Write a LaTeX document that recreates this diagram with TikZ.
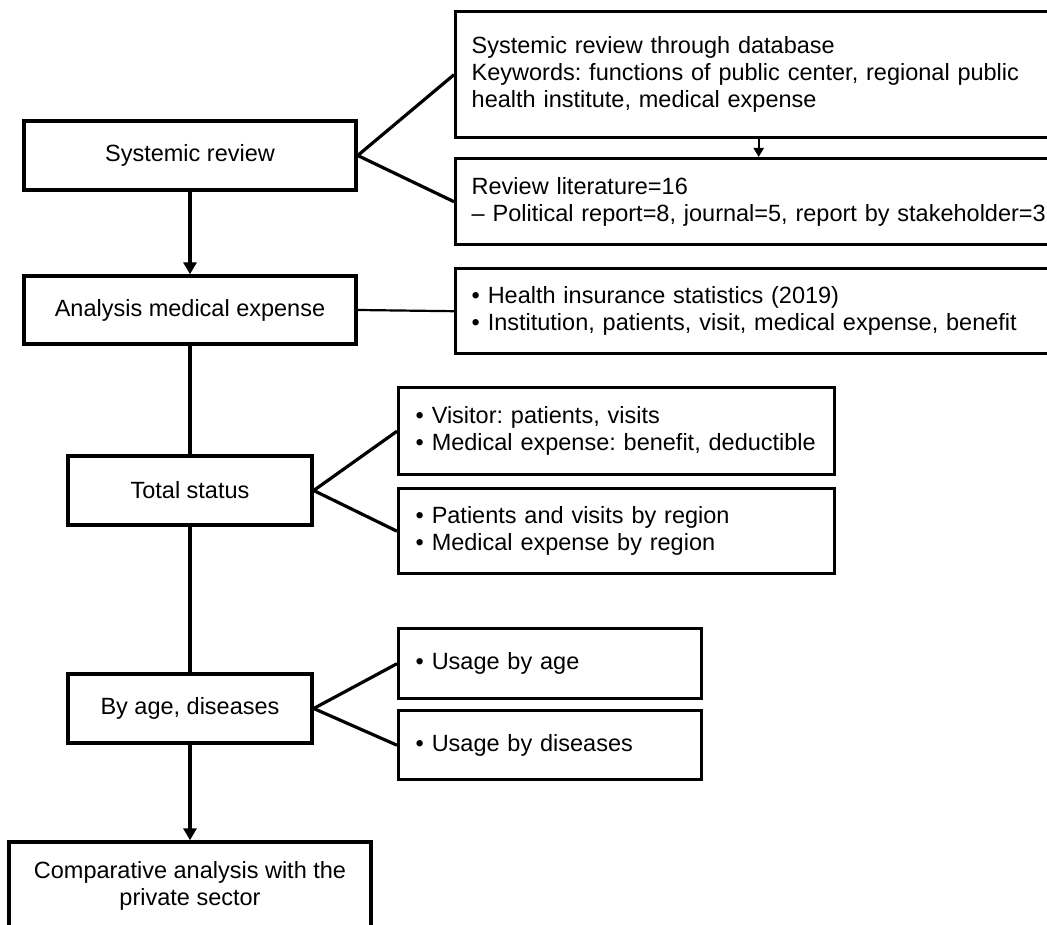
\documentclass[tikz,border=0pt]{standalone}
\usepackage{fontspec}
\setmainfont{Liberation Sans}
\usetikzlibrary{arrows.meta}
\frenchspacing
\hyphenpenalty=10000
\tikzset{
  box/.style={draw=black, line width=3.4pt, inner sep=0pt, font=\fontsize{23.5}{27}\selectfont},
  cbox/.style={box, align=center},
  lbox/.style={box, align=left, anchor=north west, inner xsep=16pt},
  bbox/.style={box, align=left, anchor=north west, inner xsep=17pt},
  conn/.style={line width=3.2pt},
  thinconn/.style={line width=2.2pt},
  arr/.style={line width=3.2pt, -{Triangle[width=13pt,length=12pt]}},
  smallarr/.style={line width=2.2pt, -{Triangle[width=10pt,length=9pt]}}
}
\begin{document}
\begin{tikzpicture}[x=1pt,y=-1pt]
\clip (0,0) rectangle (1047,925);
\fill[white] (0,0) rectangle (1047,925);
% left column
\node[cbox, minimum width=332pt, minimum height=69pt] (sys) at (190,155.5) {Systemic review};
\node[cbox, minimum width=332pt, minimum height=68pt] (ana) at (190,310) {Analysis medical expense};
\node[cbox, minimum width=244pt, minimum height=69pt] (tot) at (190,490.5) {Total status};
\node[cbox, minimum width=244pt, minimum height=69pt] (age) at (190,708.5) {By age, diseases};
\node[cbox, minimum width=362pt, minimum height=88pt] (comp) at (190,886) {Comparative analysis with the\\private sector};
% right column top (right edge lies beyond the picture, as in the reference)
\node[lbox, text width=574pt, minimum height=126pt] (b1) at (454,10) {Systemic review through database\\Keywords: functions of public center, regional public\\health institute, medical expense};
\node[lbox, text width=598pt, minimum height=86pt] (b2) at (454,157) {Review literature=16\\– Political report=8, journal=5, report by stakeholder=3};
\node[lbox, text width=598pt, minimum height=85pt] (b3) at (454,267) {• Health insurance statistics (2019)\\• Institution, patients, visit, medical expense, benefit};
% right column middle
\node[bbox, text width=402pt, minimum height=87pt] (v1) at (397,386) {• Visitor: patients, visits\\• Medical expense: benefit, deductible};
\node[bbox, text width=402pt, minimum height=85pt] (v2) at (397,487) {• Patients and visits by region\\• Medical expense by region};
% right column bottom
\node[bbox, text width=269pt, minimum height=70pt] (u1) at (397,627) {• Usage by age};
\node[bbox, text width=269pt, minimum height=69pt] (u2) at (397,709) {• Usage by diseases};
% connectors
\draw[conn] (sys.east) -- (b1.west);
\draw[conn] (sys.east) -- (b2.west);
\draw[smallarr] (b1.south) -- (b1.south |- b2.north);
\draw[arr] (sys.south) -- (ana.north);
\draw[thinconn] (ana.east) -- (b3.west);
\draw[conn] (ana.south) -- (tot.north);
\draw[conn] (tot.east) -- (v1.west);
\draw[conn] (tot.east) -- (v2.west);
\draw[conn] (tot.south) -- (age.north);
\draw[conn] (age.east) -- (u1.west);
\draw[conn] (age.east) -- (u2.west);
\draw[arr] (age.south) -- (comp.north);
\end{tikzpicture}
\end{document}
